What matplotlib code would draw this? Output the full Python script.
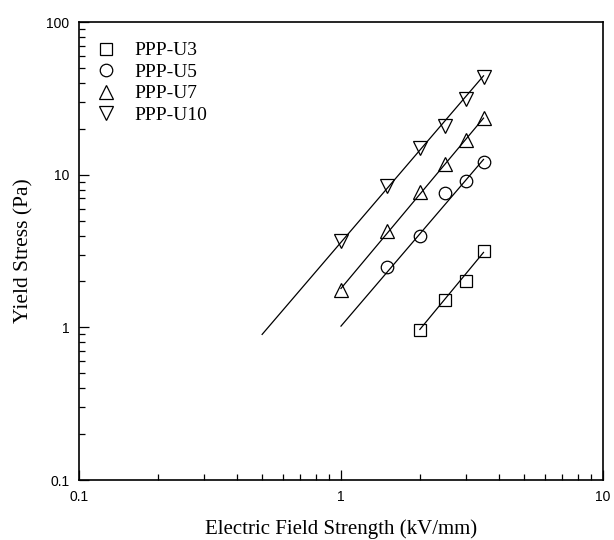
import matplotlib
matplotlib.use("Agg")
import matplotlib.pyplot as plt

# data (kV/mm, Pa)
names = ["PPP-U3", "PPP-U5", "PPP-U7", "PPP-U10"]
x_u3 = [2.0, 2.5, 3.0, 3.5]
y_u3 = [0.96, 1.51, 2.02, 3.16]
x_u5 = [1.5, 2.0, 2.5, 3.0, 3.5]
y_u5 = [2.47, 3.98, 7.54, 9.08, 12.2]
x_u7 = [1.0, 1.5, 2.0, 2.5, 3.0, 3.5]
y_u7 = [1.77, 4.3, 7.7, 11.7, 16.9, 23.7]
x_u10 = [1.0, 1.5, 2.0, 2.5, 3.0, 3.5]
y_u10 = [3.69, 8.4, 14.9, 20.9, 31.6, 43.4]

# end points of the fitted power-law lines
fit_x = [[2.0, 3.5], [1.0, 3.5], [1.0, 3.5], [0.5, 3.5]]
fit_y = [[0.97, 3.1], [1.02, 12.6], [1.8, 23.5], [0.9, 44.5]]

markers = ["s", "o", "^", "v"]
sizes = [8, 9, 10, 10]

fig = plt.figure(figsize=(6.14, 5.4), dpi=100)
ax = fig.add_axes([0.1287, 0.111, 0.8533, 0.848])

series = [(x_u3, y_u3), (x_u5, y_u5), (x_u7, y_u7), (x_u10, y_u10)]
for (xs, ys), name, m, ms, fx, fy in zip(series, names, markers, sizes, fit_x, fit_y):
    ax.plot(xs, ys, linestyle="none", marker=m, ms=ms, mfc="none",
            mec="black", mew=0.9, label=name)
    ax.plot(fx, fy, color="black", lw=0.9)

ax.set_xscale("log")
ax.set_yscale("log")
ax.set_xlim(0.1, 10)
ax.set_ylim(0.1, 100)
ax.set_xticks([0.1, 1, 10])
ax.set_xticklabels(["0.1", "1", "10"])
ax.set_yticks([0.1, 1, 10, 100])
ax.set_yticklabels(["0.1", "1", "10", "100"])

ax.tick_params(which="both", direction="in", top=False, right=False,
               labelsize=10, width=0.9)
ax.tick_params(which="major", length=7, pad=7)
ax.tick_params(which="minor", length=4)
for lab in ax.get_xticklabels() + ax.get_yticklabels():
    lab.set_family("Liberation Sans")
for sp in ax.spines.values():
    sp.set_linewidth(1.2)

ax.set_xlabel("Electric Field Strength (kV/mm)", family="Liberation Serif",
              fontsize=15, labelpad=11)
ax.set_ylabel("Yield Stress (Pa)", family="Liberation Serif",
              fontsize=15.5, labelpad=9)

ax.legend(loc="upper left", frameon=False, handlelength=1.0,
          handletextpad=0.95, borderpad=0.4, borderaxespad=0,
          prop={"family": "Liberation Serif", "size": 14},
          labelspacing=0.2, bbox_to_anchor=(0.018, 0.974))

fig.savefig("out.png", dpi=100)
